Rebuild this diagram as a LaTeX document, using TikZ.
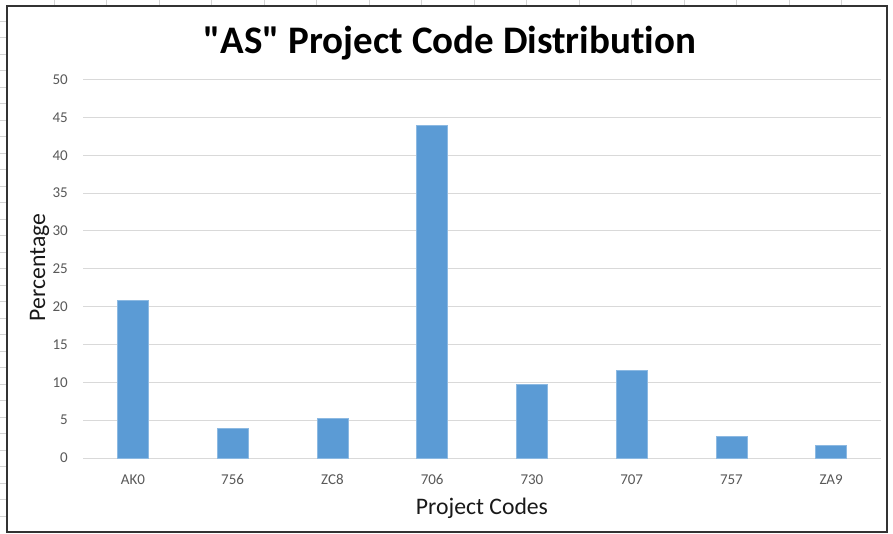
\documentclass[tikz,border=0pt]{standalone}
\usepackage{fontspec}
\setmainfont{Carlito}[Ligatures={NoCommon,TeXOff}]
\begin{document}
\begin{tikzpicture}[x=1pt,y=-1pt,
  sheetgrid/.style={draw=black!17,line width=0.8pt},
  frame/.style={draw=black!80,line width=1.6pt},
  gridline/.style={draw=black!15,line width=1pt},
  bar/.style={fill=barblue,draw=barblue!70!white,line width=0.6pt},
  ticklabel/.style={text=black!65,font=\fontsize{15}{18}\selectfont,inner sep=0pt},
  axistitle/.style={text=black!90,font=\fontsize{23.7}{28}\selectfont,inner sep=0pt},
  charttitle/.style={text=black,font=\fontsize{39}{47}\selectfont\bfseries,inner sep=0pt}]
\definecolor{barblue}{HTML}{5B9BD5}
\useasboundingbox (0,0) rectangle (893,533);
\fill[white] (0,0) rectangle (893,533);

% spreadsheet cell lines peeking out around the chart
\foreach \k in {0,...,15} \draw[sheetgrid] (54+52.5*\k,0) -- (54+52.5*\k,4.5);
\foreach \k in {0,...,30} \draw[sheetgrid] (0,21+16.5*\k) -- (6,21+16.5*\k);

% chart frame
\draw[frame] (6.7,5.7) rectangle (887,531.7);

% title
\node[charttitle,anchor=base] (title) at (450,53) {"AS" Project Code Distribution};

% horizontal gridlines and value labels (0 at y=458, 7.57 per unit)
\foreach \v in {0,5,...,50} {
  \draw[gridline] (83,458-7.57*\v) -- (881,458-7.57*\v);
  \node[ticklabel,anchor=east] (ytick\v) at (68,458-7.57*\v) {\v};
}

% bars and category labels
\foreach \c/\val [count=\i from 0] in {AK0/20.78,756/3.96,ZC8/5.19,706/43.95,730/9.78,707/11.58,757/2.87,ZA9/1.67} {
  \path[bar] (83+99.75*\i+49.9-15.5,458) rectangle (83+99.75*\i+49.9+15.5,458-7.57*\val);
  \node[ticklabel,anchor=base] (cat\i) at (83+99.75*\i+49.9,484) {\c};
}

% axis titles
\node[axistitle,anchor=base] (xtitle) at (482,514) {Project Codes};
\node[axistitle,anchor=base,rotate=90] (ytitle) at (45,267.5) {Percentage};
\end{tikzpicture}
\end{document}
